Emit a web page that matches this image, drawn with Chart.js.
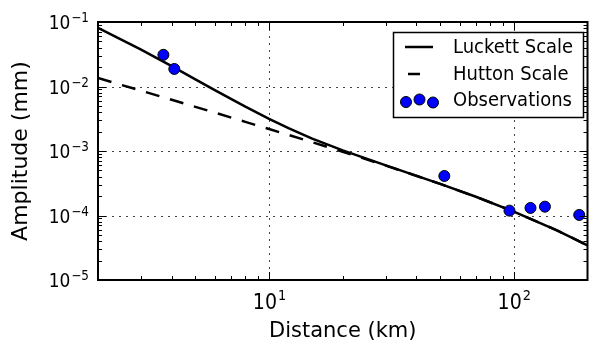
<!DOCTYPE html>
<html lang="en">
<head>
  <meta charset="UTF-8">
  <title>Amplitude vs distance</title>
  <script src="https://cdn.jsdelivr.net/npm/chart.js"></script>
  <style>
    body {
      margin: 0;
      background: #ffffff;
    }
    #wrap {
      width: 594px;
      height: 346px;
    }
  </style>
</head>
<body>
  <div id="wrap">
    <canvas id="ampChart" width="594" height="346"></canvas>
  </div>

  <script>
    // values
    const distances = [2, 3, 4, 5, 6, 8, 10, 12, 15, 20, 30, 50, 70, 100, 150, 200];
    const luckett = [0.0812, 0.0373, 0.0207, 0.0129, 0.0088, 0.00486, 0.00315, 0.00226, 0.00156, 0.00102, 0.000598, 0.000309, 0.000195, 0.000115, 0.000059, 0.0000345];
    const hutton = [0.01355, 0.0086, 0.00622, 0.00484, 0.00394, 0.00283, 0.00219, 0.001776, 0.001368, 0.000973, 0.000594, 0.000309, 0.000195, 0.000115, 0.000059, 0.0000345];
    const obsDistance = [3.7, 4.1, 52, 96, 117, 134, 185];
    const obsAmplitude = [0.031, 0.0187, 0.00041, 0.000119, 0.000131, 0.000137, 0.000102];

    const xMajor = [10, 100];
    const xExp = ['1', '2'];
    const yMajor = [1e-5, 1e-4, 1e-3, 1e-2, 1e-1];
    const yExp = ['−5', '−4', '−3', '−2', '−1'];
    const seriesNames = ['Luckett Scale', 'Hutton Scale', 'Observations'];

    const FONT = '"DejaVu Sans", sans-serif';
    const STRETCH = 1.1;

    function text(ctx, str, x, y, size, align, baseline) {
      ctx.save();
      ctx.translate(x, y);
      ctx.scale(1, STRETCH);
      ctx.font = size + 'px ' + FONT;
      ctx.fillStyle = '#000';
      ctx.textAlign = align;
      ctx.textBaseline = baseline;
      ctx.fillText(str, 0, 0);
      ctx.restore();
    }

    function textWidth(ctx, str, size) {
      ctx.font = size + 'px ' + FONT;
      return ctx.measureText(str).width;
    }

    // minor tick values 2..9 x 10^n inside a log range
    function minors(min, max) {
      const out = [];
      for (let p = Math.floor(Math.log10(min)); p <= Math.ceil(Math.log10(max)); p++) {
        for (let m = 2; m <= 9; m++) {
          const v = m * Math.pow(10, p);
          if (v > min && v < max) out.push(v);
        }
      }
      return out;
    }

    const axesPlugin = {
      id: 'mplAxes',
      beforeDatasetsDraw(chart) {
        const { ctx, chartArea: a, scales: { x, y } } = chart;
        ctx.save();
        ctx.strokeStyle = '#444';
        ctx.lineWidth = 1;
        ctx.setLineDash([2, 5]);
        xMajor.forEach(v => {
          const px = Math.round(x.getPixelForValue(v)) + 0.5;
          ctx.beginPath(); ctx.moveTo(px, a.top); ctx.lineTo(px, a.bottom); ctx.stroke();
        });
        yMajor.forEach(v => {
          const py = Math.round(y.getPixelForValue(v)) + 0.5;
          if (py <= a.top + 1 || py >= a.bottom - 1) return;
          ctx.beginPath(); ctx.moveTo(a.left, py); ctx.lineTo(a.right, py); ctx.stroke();
        });
        ctx.restore();
      },
      afterDatasetsDraw(chart) {
        const { ctx, chartArea: a, scales: { x, y } } = chart;
        ctx.save();
        ctx.strokeStyle = '#000';
        ctx.lineWidth = 1;

        // ticks pointing inward on all four sides
        const xTicks = xMajor.map(v => [v, 8]).concat(minors(x.min, x.max).map(v => [v, 4]));
        xTicks.forEach(([v, len]) => {
          const px = Math.round(x.getPixelForValue(v)) + 0.5;
          ctx.beginPath();
          ctx.moveTo(px, a.bottom); ctx.lineTo(px, a.bottom - len);
          ctx.moveTo(px, a.top); ctx.lineTo(px, a.top + len);
          ctx.stroke();
        });
        const yTicks = yMajor.map(v => [v, 8]).concat(minors(y.min, y.max).map(v => [v, 4]));
        yTicks.forEach(([v, len]) => {
          const py = Math.round(y.getPixelForValue(v)) + 0.5;
          ctx.beginPath();
          ctx.moveTo(a.left, py); ctx.lineTo(a.left + len, py);
          ctx.moveTo(a.right, py); ctx.lineTo(a.right - len, py);
          ctx.stroke();
        });

        // frame
        ctx.lineWidth = 2;
        ctx.strokeRect(a.left, a.top, a.right - a.left, a.bottom - a.top);
        ctx.restore();

        // x tick labels
        xMajor.forEach((v, i) => {
          const px = x.getPixelForValue(v);
          const wb = textWidth(ctx, '10', 19);
          const we = textWidth(ctx, xExp[i], 13);
          const x0 = px - (wb + we) / 2;
          text(ctx, '10', x0, a.bottom + 29, 19, 'left', 'alphabetic');
          text(ctx, xExp[i], x0 + wb + 1, a.bottom + 20, 13, 'left', 'alphabetic');
        });
        // y tick labels
        yMajor.forEach((v, i) => {
          const py = y.getPixelForValue(v);
          const we = textWidth(ctx, yExp[i], 12);
          const right = a.left - 9;
          text(ctx, yExp[i], right, py, 12, 'right', 'alphabetic');
          text(ctx, '10', right - we - 1, py + 7, 17, 'right', 'alphabetic');
        });

        // legend box
        ctx.save();
        ctx.fillStyle = '#fff';
        ctx.fillRect(393.5, 32.5, 190, 85);
        ctx.strokeStyle = '#000';
        ctx.lineWidth = 1.5;
        ctx.strokeRect(393.5, 32.5, 190, 85);
        const ds = chart.data.datasets;
        // Luckett handle
        ctx.strokeStyle = ds[0].borderColor;
        ctx.lineWidth = ds[0].borderWidth;
        ctx.beginPath(); ctx.moveTo(405, 47); ctx.lineTo(433, 47); ctx.stroke();
        // Hutton handle (one dash visible)
        ctx.strokeStyle = ds[1].borderColor;
        ctx.lineWidth = ds[1].borderWidth;
        ctx.beginPath(); ctx.moveTo(408, 74); ctx.lineTo(420, 74); ctx.stroke();
        // Observation handle
        ctx.fillStyle = ds[2].backgroundColor;
        ctx.strokeStyle = ds[2].borderColor;
        ctx.lineWidth = 1;
        [[406, 102], [419.5, 99.5], [433, 102.5]].forEach(([cx, cy]) => {
          ctx.beginPath(); ctx.arc(cx, cy, 5.5, 0, Math.PI * 2); ctx.fill(); ctx.stroke();
        });
        ctx.restore();
        text(ctx, seriesNames[0], 453, 48, 18, 'left', 'middle');
        text(ctx, seriesNames[1], 453, 74.5, 18, 'left', 'middle');
        text(ctx, seriesNames[2], 453, 101, 18, 'left', 'middle');
      }
    };

    const ctx = document.getElementById('ampChart').getContext('2d');

    const chart = new Chart(ctx, {
      type: 'line',
      data: {
        datasets: [
          {
            label: seriesNames[0],
            data: distances.map((d, i) => ({ x: d, y: luckett[i] })),
            borderColor: '#000000',
            borderWidth: 2.5,
            pointRadius: 0,
            tension: 0,
            order: 1
          },
          {
            label: seriesNames[1],
            data: distances.map((d, i) => ({ x: d, y: hutton[i] })),
            borderColor: '#000000',
            borderWidth: 2.5,
            borderDash: [14, 11],
            pointRadius: 0,
            tension: 0,
            order: 2
          },
          {
            label: seriesNames[2],
            data: obsDistance.map((d, i) => ({ x: d, y: obsAmplitude[i] })),
            showLine: false,
            backgroundColor: '#0000ff',
            borderColor: '#000000',
            borderWidth: 1,
            pointRadius: 5.5,
            order: 0
          }
        ]
      },
      options: {
        responsive: false,
        animation: false,
        layout: {
          padding: { left: 0, top: 22, right: 3, bottom: 0 }
        },
        scales: {
          x: {
            type: 'logarithmic',
            min: 2,
            max: 200,
            grid: { display: false },
            border: { display: false },
            ticks: { display: false },
            title: {
              display: true,
              text: 'Distance (km)',
              color: '#000',
              font: { family: FONT, size: 21 },
              padding: { top: 0, bottom: 1.5 }
            },
            afterFit(scale) { scale.height = 66; }
          },
          y: {
            type: 'logarithmic',
            min: 1e-5,
            max: 1e-1,
            grid: { display: false },
            border: { display: false },
            ticks: { display: false },
            title: {
              display: true,
              text: 'Amplitude (mm)',
              color: '#000',
              font: { family: FONT, size: 22 },
              padding: { top: 8.5, bottom: 0 }
            },
            afterFit(scale) { scale.width = 98; }
          }
        },
        plugins: {
          legend: { display: false },
          tooltip: { enabled: false }
        }
      },
      plugins: [axesPlugin]
    });
  </script>
</body>
</html>
